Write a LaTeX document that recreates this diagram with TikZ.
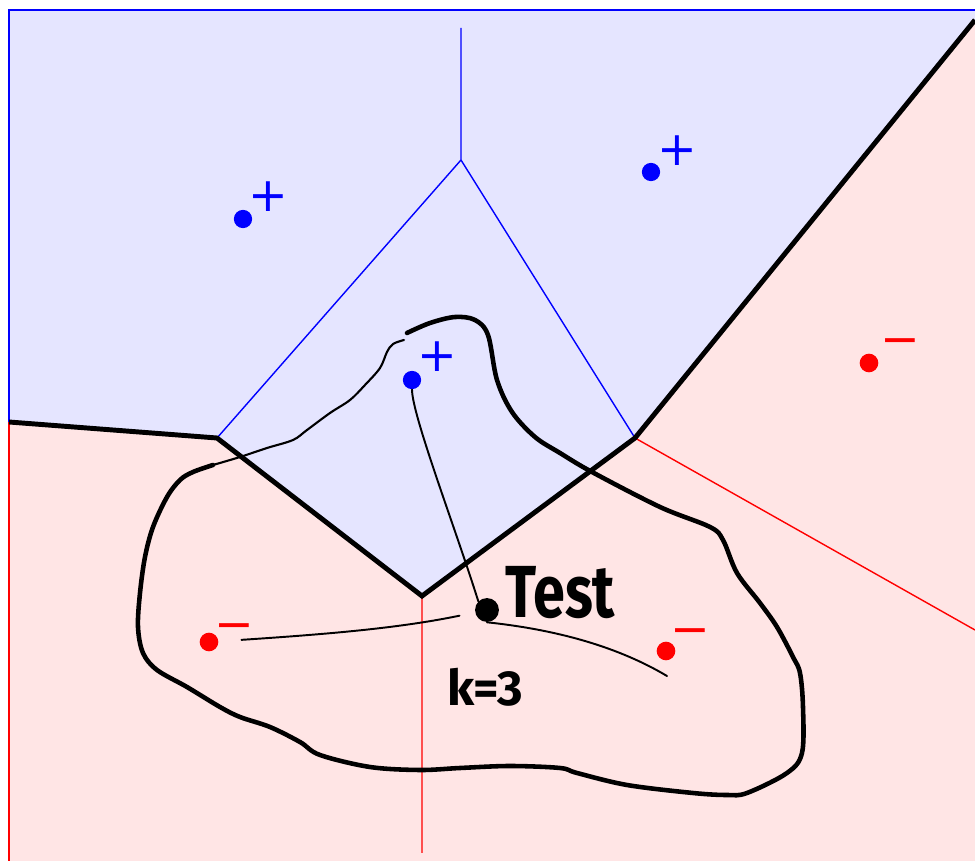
\documentclass[tikz,border=0pt]{standalone}
\usepackage{fontspec}
\usepackage{tikz}
\newfontfamily\signfont{DejaVu Sans}
\newfontfamily\handfont{Fira Sans}
\colorlet{poscell}{blue!10}
\colorlet{negcell}{red!10}
\tikzset{
  cellline/.style = {line width=0.8pt},
  decbound/.style = {line width=2.8pt},
  posdot/.style   = {circle,fill=blue,inner sep=0pt,minimum size=10.4pt},
  negdot/.style   = {circle,fill=red,inner sep=0pt,minimum size=10.6pt},
  signlbl/.style  = {inner sep=0pt,text height=0.62em,text depth=0pt,
                     font=\signfont\fontsize{27}{27}\selectfont},
  knnline/.style  = {line width=1.1pt,line cap=round},
  hoop/.style     = {line width=2.6pt,line cap=round,line join=round}
}

\begin{document}
\begin{tikzpicture}[x=0.02cm,y=-0.02cm]
  \useasboundingbox (0,0) rectangle (975,861);
  % voronoi cells, coloured by class
  \fill[negcell] (9,422) -- (217,438) -- (422,596) -- (635,438) -- (975,20) -- (975,861) -- (9,861) -- cycle;
  \fill[poscell] (9,10) -- (975,10) -- (975,20) -- (635,438) -- (422,596) -- (217,438) -- (9,422) -- cycle;
  \draw[cellline,blue] (9,422) -- (9,10) -- (975,10);
  \draw[cellline,red]  (9,422) -- (9,861);
  \draw[cellline,blue] (461,28) -- (461,160) -- (217,438) (461,160) -- (635,438);
  \draw[cellline,red]  (635,438) -- (975,630) (422,596) -- (422,853);
  \draw[cellline,red]  (217,439) -- (422,597);
  \draw[decbound] (9,422) -- (217,438) -- (422,596) -- (635,438) -- (975,20);

  \node[posdot] (p1) at (243,219) {};
  \node[posdot] (p2) at (651,172) {};
  \node[posdot] (p3) at (412,380) {};
  \node[negdot] (m1) at (209,642) {};
  \node[negdot] (m2) at (666,651) {};
  \node[negdot] (m3) at (869,363) {};
  \node[signlbl,blue] (p1s) at (268,206) {+};
  \node[signlbl,blue] (p2s) at (677,160) {+};
  \node[signlbl,blue] (p3s) at (437,366) {+};
  \node[signlbl,red]  (m1s) at (234,635) {−};
  \node[signlbl,red]  (m2s) at (690,640) {−};
  \node[signlbl,red]  (m3s) at (900,350) {−};

  \node[circle,fill,inner sep=0pt,minimum size=13.6pt] (test) at (487,610) {};
  \node[anchor=base west,inner sep=0pt,xscale=0.78,font=\handfont\bfseries\fontsize{42}{42}\selectfont] (testlbl) at (505,618) {Test};
  \node[anchor=base west,inner sep=0pt,font=\handfont\bfseries\fontsize{28}{28}\selectfont] (klbl) at (447,706) {k=3};

  % the three nearest neighbours of the test point
  \coordinate (m2tip) at (667,676);
  \draw[knnline] (p3.south) .. controls (412,415) and (456,530) .. (test.north west);
  \draw[knnline,shorten <=13pt,shorten >=9pt] (m1) .. controls (330,634) and (400,628) .. (test);
  \draw[knnline] (test.south) .. controls (560,630) and (620,648) .. (m2tip);

  \draw[hoop] plot[smooth,tension=0.55] coordinates {
    (407,333) (430,323) (455,317) (475,320) (488,335) (497,380) (512,412) (535,437)
    (560,453) (592,472) (660,507) (710,527) (723,540) (737,573) (760,603) (777,627)
    (793,657) (800,673) (803,707) (802,753) (787,773) (747,793) (727,795) (693,793)
    (627,785) (577,773) (560,768) (510,766) (460,768) (420,770) (370,767) (320,755)
    (300,742) (270,727) (240,717) (220,707) (187,687) (157,670) (143,653) (138,627)
    (140,593) (145,557) (153,527) (167,497) (180,480) (193,472) (213,465)};
  \draw[line width=1.2pt,line cap=round] plot[smooth,tension=0.55] coordinates {
    (213,465) (240,457) (267,448) (293,440) (307,430) (330,413) (350,400) (365,385)
    (380,368) (387,352) (393,344) (404,340)};
\end{tikzpicture}
\end{document}
